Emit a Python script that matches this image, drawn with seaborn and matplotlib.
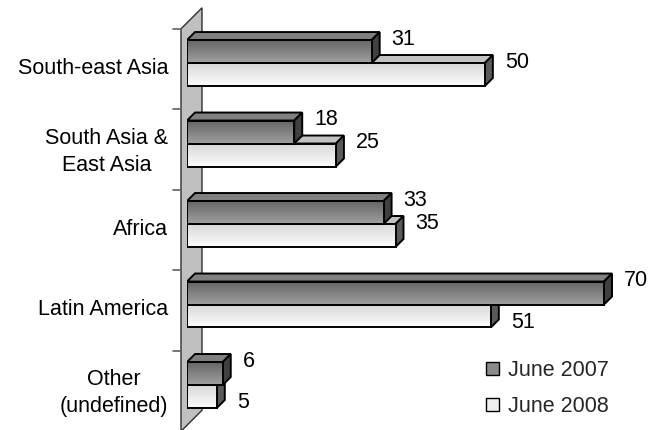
import numpy as np
import pandas as pd
import matplotlib
matplotlib.use("Agg")
import matplotlib.pyplot as plt
import seaborn as sns
from matplotlib.patches import Polygon
from matplotlib.lines import Line2D
from matplotlib.transforms import IdentityTransform, ScaledTranslation
from matplotlib.colors import LinearSegmentedColormap

# ---- data ----
regions = ["South-east Asia", "South Asia &\nEast Asia", "Africa", "Latin America", "Other\n(undefined)"]
june_2007 = [31, 18, 33, 70, 6]
june_2008 = [50, 25, 35, 51, 5]
series = ["June 2007", "June 2008"]

df = pd.DataFrame({
    "region": regions * 2,
    "value": june_2007 + june_2008,
    "period": [series[0]] * len(regions) + [series[1]] * len(regions),
})

sns.set_theme(style="white")
plt.rcParams["font.family"] = ["Liberation Sans", "DejaVu Sans"]

DPI = 100
W, H = 657, 430
fig = plt.figure(figsize=(W / DPI, H / DPI), dpi=DPI)
fig.patch.set_facecolor("white")

x_left_px, x_right_px = 187, 650
ax = fig.add_axes([x_left_px / W, 0, (x_right_px - x_left_px) / W, 1])

dark_c = "#8a8a8a"
light_c = "#f0f0f0"
FS = 15.5
LW = 1.4
sns.barplot(data=df, y="region", x="value", hue="period", orient="h",
            width=0.571, palette=[dark_c, light_c], edgecolor="black",
            linewidth=LW, ax=ax, legend=True, order=regions, hue_order=series)

px_per_unit = (604 - 187) / 70.0
ax.set_xlim(0, (x_right_px - x_left_px) / px_per_unit)
ax.set_ylim(4.559, -0.783)
ax.set_facecolor("none")
for s in ax.spines.values():
    s.set_visible(False)
ax.set_xticks([])
ax.set_xlabel("")
ax.set_ylabel("")
ax.tick_params(axis="y", length=0, pad=13.5, labelsize=FS, colors="black")

# shift tick labels slightly down (front plane of the 3-D wall)
shift = ScaledTranslation(0, -2.5 / DPI, fig.dpi_scale_trans)
for lab in ax.get_yticklabels():
    lab.set_transform(lab.get_transform() + shift)
    lab.set_multialignment("center")
    lab.set_linespacing(1.4)

D = 8 * DPI / 100.0  # depth in pixels

front_grad = {0: ("#666666", "#a0a0a0"), 1: ("#d8d8d8", "#fcfcfc")}
top_col = {0: "#808080", 1: "#c2c2c2"}
side_col = {0: "#404040", 1: "#5a5a5a"}

# wall (left side wall of the 3-D chart)
X0 = ax.transData.transform((0, 0))[0]
ytop = ax.transData.transform((0, -0.5))[1]
ybot = ax.transData.transform((0, 4.5))[1]
wall = Polygon([(X0 - 6, ytop - 6), (X0 + 15, ytop + 15), (X0 + 15, ybot + 15), (X0 - 6, ybot - 6)],
               closed=True, facecolor="#c0c0c0", edgecolor="#303030", linewidth=1.0,
               transform=IdentityTransform(), zorder=0.5, clip_on=False)
ax.add_patch(wall)
for b in np.arange(-0.5, 5.0, 1.0):
    yb = ax.transData.transform((0, b))[1] - 6
    ax.add_line(Line2D([X0 - 14, X0 - 6], [yb, yb], color="#606060", linewidth=1.2,
                       transform=IdentityTransform(), zorder=0.6, clip_on=False))

vals = [june_2007, june_2008]
for hi, cont in enumerate(ax.containers):
    zb = 3 if hi == 0 else 2
    cmap = LinearSegmentedColormap.from_list("g%d" % hi, list(front_grad[hi]))
    for bi, bar in enumerate(cont.patches):
        x0, y0, w, h = bar.get_x(), bar.get_y(), bar.get_width(), bar.get_height()
        grad = np.linspace(0, 1, 128).reshape(-1, 1)
        im = ax.imshow(grad, cmap=cmap, extent=(x0, x0 + w, y0 + h, y0), aspect="auto",
                       origin="upper", zorder=zb + 0.1, interpolation="bilinear")
        im.set_clip_path(bar)
        bar.set_facecolor("none")
        bar.set_zorder(zb + 0.2)
        (xl, yb_), (xr, yt) = ax.transData.transform([(x0, y0 + h), (x0 + w, y0)])
        top = Polygon([(xl, yt), (xr, yt), (xr + D, yt + D), (xl + D, yt + D)], closed=True,
                      facecolor=top_col[hi], edgecolor="black", linewidth=LW,
                      transform=IdentityTransform(), zorder=zb, joinstyle="miter")
        side = Polygon([(xr, yt), (xr, yb_), (xr + D, yb_ + D), (xr + D, yt + D)], closed=True,
                       facecolor=side_col[hi], edgecolor="black", linewidth=LW,
                       transform=IdentityTransform(), zorder=zb, joinstyle="miter")
        ax.add_patch(top)
        ax.add_patch(side)
        # value labels
        v = w
        other = vals[1 - hi][bi]
        if hi == 1 and other > v:
            ylab = y0 + h
            dy = 5
        else:
            ylab = y0
            dy = 1
        ax.annotate(f"{v:g}", xy=(v, ylab), xytext=(20, dy), textcoords="offset pixels",
                    ha="left", va="center", fontsize=FS, color="black", zorder=5)

ax.set_ylim(4.559, -0.783)
ax.set_xlim(0, (x_right_px - x_left_px) / px_per_unit)

sns.move_legend(ax, loc="upper left", bbox_to_anchor=(486 / W, 1 - 360 / H),
                bbox_transform=fig.transFigure, frameon=False, title=None,
                fontsize=FS, handlelength=0.6, handleheight=0.6,
                labelspacing=0.7, handletextpad=0.4, borderpad=0, borderaxespad=0)
leg = ax.get_legend()
for hdl, col in zip(leg.legend_handles, [dark_c, light_c]):
    hdl.set_facecolor(col)
    hdl.set_edgecolor("black")
    hdl.set_linewidth(1.0)

fig.savefig("out.png", dpi=DPI, facecolor="white")
